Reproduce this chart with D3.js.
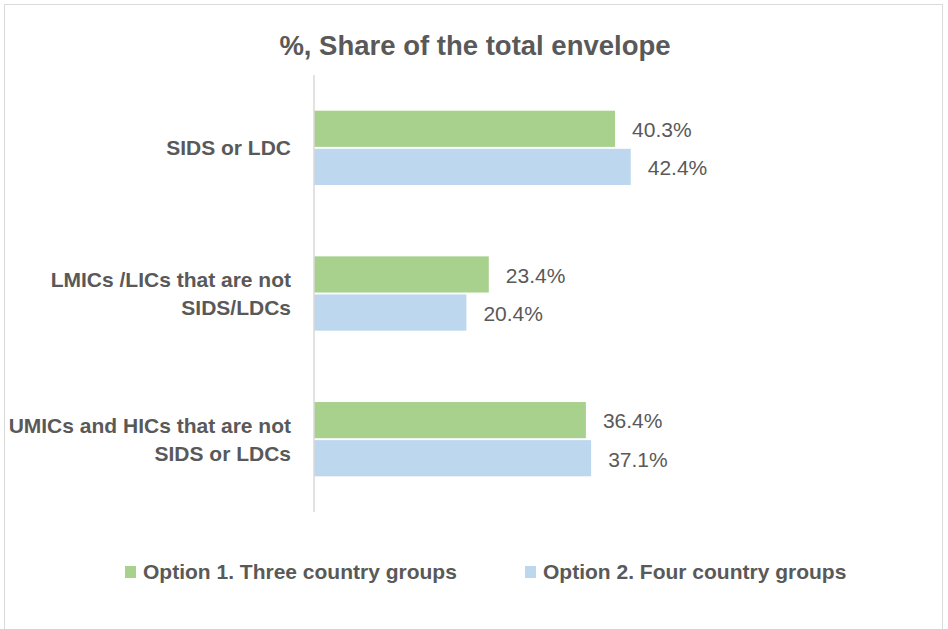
<!DOCTYPE html>
<html>
<head>
<meta charset="utf-8">
<script src="https://cdn.jsdelivr.net/npm/d3@7"></script>
<style>
  body { margin: 0; background: #fff; }
  text { font-family: "Liberation Sans Narrow", "Arial Narrow", sans-serif; fill: #595959; }
</style>
</head>
<body>
<div id="root"></div>
<script>
const width = 948
const height = 629

const categories = [
  ['SIDS or LDC'],
  ['LMICs /LICs that are not', 'SIDS/LDCs'],
  ['UMICs and HICs that are not', 'SIDS or LDCs']
]
const seriesNames = ['Option 1. Three country groups', 'Option 2. Four country groups']
const option1 = [40.3, 23.4, 36.4]
const option2 = [42.4, 20.4, 37.1]
const colors = ['#a9d18e', '#bdd7ee']

const svg = d3.select('#root').append('svg')
  .attr('width', width)
  .attr('height', height)

// chart border
svg.append('rect')
  .attr('x', 4.5).attr('y', 4.5)
  .attr('width', 938).attr('height', 640)
  .attr('fill', 'none')
  .attr('stroke', '#d9d9d9')

const margin = { left: 314, top: 75, bottom: 117 }
const y = d3.scaleBand()
  .domain(d3.range(categories.length))
  .range([margin.top, height - margin.bottom])
  .paddingInner(0.49)
  .paddingOuter(0.245)

const ySub = d3.scaleBand()
  .domain([0, 1])
  .range([0, y.bandwidth()])
  .paddingInner(0.05)

const x = d3.scaleLinear()
  .domain([0, 1])
  .range([margin.left, margin.left + 7.47])

svg.append('text')
  .attr('x', 475).attr('y', 55)
  .attr('text-anchor', 'middle')
  .attr('font-size', 27.5)
  .attr('font-weight', 'bold')
  .text('%, Share of the total envelope')

const rows = categories.map((c, i) => ({ label: c, values: [option1[i], option2[i]] }))

const groups = svg.selectAll('g.cat')
  .data(rows)
  .join('g')
  .attr('class', 'cat')
  .attr('transform', (d, i) => `translate(0,${y(i)})`)

groups.selectAll('rect')
  .data(d => d.values)
  .join('rect')
  .attr('x', x(0))
  .attr('y', (d, j) => ySub(j))
  .attr('width', d => x(d) - x(0))
  .attr('height', ySub.bandwidth())
  .attr('fill', (d, j) => colors[j])

groups.selectAll('text.val')
  .data(d => d.values)
  .join('text')
  .attr('class', 'val')
  .attr('x', d => x(d) + 17)
  .attr('y', (d, j) => ySub(j) + ySub.bandwidth() / 2 + 1)
  .attr('dy', '0.35em')
  .attr('font-size', 21)
  .text(d => d.toFixed(1) + '%')

groups.append('text')
  .attr('class', 'cat-label')
  .attr('x', 291)
  .attr('y', d => y.bandwidth() / 2 - (d.label.length - 1) * 14)
  .attr('text-anchor', 'end')
  .attr('font-size', 21)
  .attr('font-weight', 'bold')
  .selectAll('tspan')
  .data(d => d.label)
  .join('tspan')
  .attr('x', 291)
  .attr('dy', (d, k) => k === 0 ? '0.35em' : 28)
  .text(d => d)

// axis line
svg.append('line')
  .attr('x1', x(0)).attr('x2', x(0))
  .attr('y1', margin.top).attr('y2', height - margin.bottom)
  .attr('stroke', '#d9d9d9')
  .attr('stroke-width', 1.5)

// legend
const legendX = [125, 525]
const legend = svg.selectAll('g.legend')
  .data(seriesNames)
  .join('g')
  .attr('class', 'legend')
  .attr('transform', (d, i) => `translate(${legendX[i]},572)`)

legend.append('rect')
  .attr('x', 0).attr('y', -6)
  .attr('width', 11).attr('height', 12)
  .attr('fill', (d, i) => colors[i])

legend.append('text')
  .attr('x', 18)
  .attr('dy', '0.35em')
  .attr('font-size', 21)
  .attr('font-weight', 'bold')
  .text(d => d)
</script>
</body>
</html>
